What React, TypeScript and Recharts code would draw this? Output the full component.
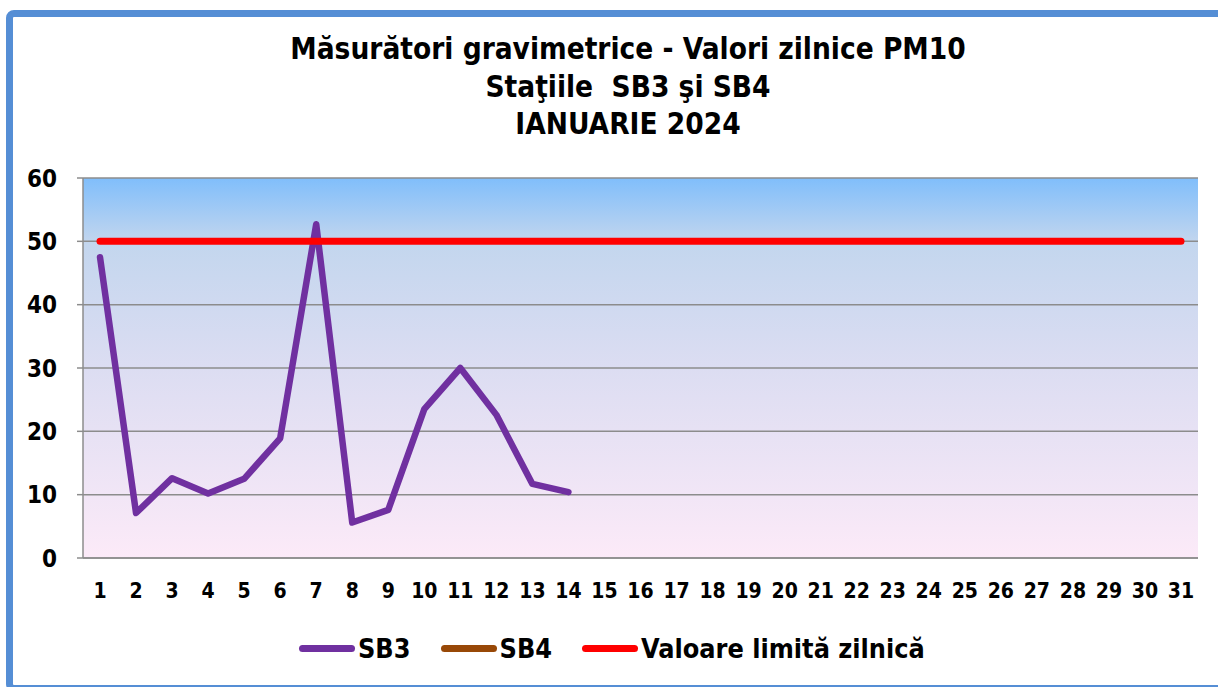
import React from 'react';
import { LineChart, Line, XAxis, YAxis, CartesianGrid } from 'recharts';

const days = ['1','2','3','4','5','6','7','8','9','10','11','12','13','14','15','16','17','18','19','20','21','22','23','24','25','26','27','28','29','30','31'];
const sb3: (number | null)[] = [47.5, 7.1, 12.6, 10.2, 12.5, 18.9, 52.7, 5.6, 7.6, 23.5, 30.0, 22.6, 11.7, 10.4, null, null, null, null, null, null, null, null, null, null, null, null, null, null, null, null, null];
const sb4: (number | null)[] = [null, null, null, null, null, null, null, null, null, null, null, null, null, null, null, null, null, null, null, null, null, null, null, null, null, null, null, null, null, null, null];
const limit: number[] = [50, 50, 50, 50, 50, 50, 50, 50, 50, 50, 50, 50, 50, 50, 50, 50, 50, 50, 50, 50, 50, 50, 50, 50, 50, 50, 50, 50, 50, 50, 50];
const yTicks = [0, 10, 20, 30, 40, 50, 60];
const titleLines = ['Măsurători gravimetrice - Valori zilnice PM10', 'Staţiile  SB3 şi SB4', 'IANUARIE 2024'];
const legendItems = [
  { name: 'SB3', color: '#7030A0' },
  { name: 'SB4', color: '#984807' },
  { name: 'Valoare limită zilnică', color: '#FF0000' },
];

const data = days.map((d, i) => ({ day: d, sb3: sb3[i], sb4: sb4[i], limit: limit[i] }));

const condFont = "'DejaVu Sans Condensed', 'DejaVu Sans', sans-serif";

export default function App() {
  return (
    <div style={{ position: 'fixed', left: 0, top: 0, width: 1218, height: 687, overflow: 'hidden', background: '#fff' }}>
      <svg width="0" height="0" style={{ position: 'absolute' }}>
        <defs>
          <linearGradient id="plotBg" x1="0" y1="0" x2="0" y2="1">
            <stop offset="0%" stopColor="#80BEFB" />
            <stop offset="17%" stopColor="#C3D6EE" />
            <stop offset="50%" stopColor="#DCDDF2" />
            <stop offset="100%" stopColor="#FCEAF8" />
          </linearGradient>
        </defs>
      </svg>
      <div style={{ position: 'absolute', left: 6, top: 10, width: 1260, height: 668, border: '7px solid #558ED5', borderRadius: 8, boxSizing: 'content-box' }} />
      <div style={{ position: 'absolute', left: 0, top: 31, width: 1256, textAlign: 'center', fontFamily: condFont, fontStretch: 'condensed', fontWeight: 'bold', fontSize: 29.5, lineHeight: '37.5px', color: '#000', whiteSpace: 'pre' }}>
        {titleLines.map((t, i) => (<div key={i}>{t}</div>))}
      </div>
      <div style={{ position: 'absolute', left: 0, top: 0 }}>
        <LineChart width={1218} height={687} data={data} margin={{ top: 178, right: 20, bottom: 89, left: 23 }}>
          <CartesianGrid vertical={false} stroke="#8C8C8C" strokeWidth={1.5} fill="url(#plotBg)" fillOpacity={1} />
          <XAxis dataKey="day" type="category" interval={0} padding={{ left: 17, right: 17 }} axisLine={{ stroke: '#8C8C8C', strokeWidth: 1.5 }} tickLine={false} tickSize={0} tickMargin={25} height={40} tick={{ fill: '#000', fontSize: 21, fontWeight: 'bold', fontFamily: condFont }} />
          <YAxis type="number" domain={[0, 60]} ticks={yTicks} interval={0} width={60} axisLine={{ stroke: '#8C8C8C', strokeWidth: 1.5 }} tickLine={{ stroke: '#8C8C8C', strokeWidth: 1.5 }} tickSize={6} tickMargin={20} tick={{ fill: '#000', fontSize: 24, fontWeight: 'bold', fontFamily: condFont }} />
          <Line type="linear" dataKey="sb3" stroke="#7030A0" strokeWidth={6.5} dot={false} activeDot={false} strokeLinecap="round" strokeLinejoin="round" isAnimationActive={false} />
          <Line type="linear" dataKey="sb4" stroke="#984807" strokeWidth={6.5} dot={false} activeDot={false} strokeLinecap="round" isAnimationActive={false} />
          <Line type="linear" dataKey="limit" stroke="#FF0000" strokeWidth={7} dot={false} activeDot={false} strokeLinecap="round" isAnimationActive={false} />
        </LineChart>
      </div>
      <div style={{ position: 'absolute', left: 299, top: 630, height: 36, display: 'flex', alignItems: 'center', fontFamily: condFont, fontStretch: 'condensed', fontWeight: 'bold', fontSize: 26.8, color: '#000', whiteSpace: 'pre' }}>
        {legendItems.map((it, i) => (
          <div key={i} style={{ display: 'flex', alignItems: 'center', marginRight: 30 }}>
            <div style={{ width: 56, height: 7, borderRadius: 3.5, background: it.color, marginRight: 3 }} />
            <span>{it.name}</span>
          </div>
        ))}
      </div>
    </div>
  );
}
